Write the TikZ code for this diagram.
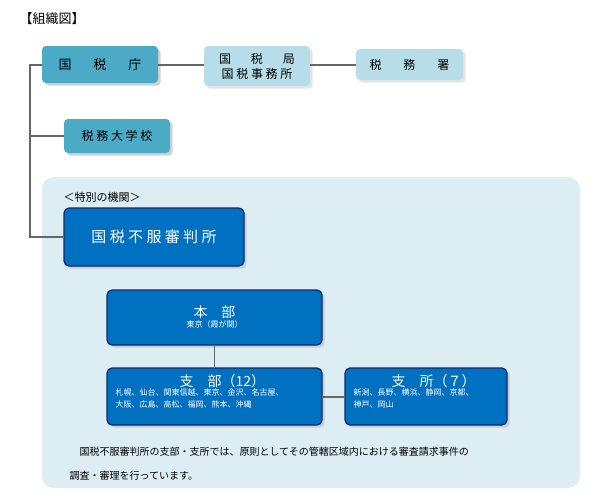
\documentclass[tikz,border=0pt]{standalone}
\usepackage{fontspec}
\setmainfont{Noto Sans CJK JP}
\usetikzlibrary{positioning}
\definecolor{tealbox}{HTML}{4BAAC6}
\definecolor{lightbox}{HTML}{B7DEE8}
\definecolor{panel}{HTML}{DCEEF4}
\definecolor{darkbox}{HTML}{0070C0}
\definecolor{navy}{HTML}{0D2A6B}
\tikzset{
  topbox/.style={rounded corners=4pt, fill=tealbox, font=\fontsize{13}{15}\selectfont, text=black,
    drop shadow={fill=gray!70}},
  subbox/.style={rounded corners=4pt, fill=lightbox, font=\fontsize{12}{15}\selectfont, text=black,
    drop shadow={fill=gray!40}},
  bluebox/.style={rounded corners=5pt, fill=darkbox, draw=navy, line width=1.2pt, text=white,
    drop shadow={fill=gray!60}},
  link/.style={draw=gray!80!black, line width=1.4pt}
}
\usetikzlibrary{shadows}
\begin{document}
\begin{tikzpicture}[x=1pt,y=-1pt]
\useasboundingbox (0,0) rectangle (600,501);
\node[anchor=west, font=\fontsize{13}{15}\selectfont] (title) at (16,19) {【組織図】};
\fill[panel, rounded corners=12pt] (42,177) rectangle (580,488);
% boxes
\path[topbox] (42,46) rectangle (158,83);
\node (nta) at (100,64.5) {\fontsize{13}{15}\selectfont 国\hspace{22pt}税\hspace{22pt}庁};
\path[subbox] (204,46) rectangle (310,86);
\node[align=center, font=\fontsize{12}{15}\selectfont] (kyoku) at (257,66) {国\hspace{20pt}税\hspace{20pt}局\\国 税 事 務 所};
\path[subbox] (356,49) rectangle (463,80);
\node (sho) at (409.5,64.5) {\fontsize{12}{15}\selectfont 税\hspace{22pt}務\hspace{22pt}署};
\path[topbox] (64,119) rectangle (170,153);
\node (univ) at (117,136) {\fontsize{12}{15}\selectfont 税 務 大 学 校};
\node[anchor=west, font=\fontsize{11}{13}\selectfont] (tokubetsu) at (60,197) {＜特別の機関＞};
\path[bluebox] (64,208) rectangle (244,266);
\node[text=white] (shinpan) at (154,237) {\fontsize{15}{18}\selectfont 国 税 不 服 審 判 所};
\path[bluebox] (107,290) rectangle (322,345);
\node[text=white, align=center] (honbu) at (214.5,317) {\fontsize{14}{17}\selectfont 本\hspace{14pt}部\\[-2pt]\fontsize{8}{10}\selectfont 東京（霞が関）};
\path[bluebox] (107,368) rectangle (322,425);
\node[text=white, align=left, anchor=north west] (shibu) at (112,371) {\hspace{64pt}\fontsize{14}{17}\selectfont 支\hspace{14pt}部（12）\\[-3pt]\fontsize{8}{11}\selectfont 札幌、仙台、関東信越、東京、金沢、名古屋、\\\fontsize{8}{11}\selectfont 大阪、広島、高松、福岡、熊本、沖縄};
\path[bluebox] (345,368) rectangle (507,425);
\node[text=white, align=left, anchor=north west] (shisho) at (350,371) {\hspace{38pt}\fontsize{14}{17}\selectfont 支\hspace{14pt}所（７）\\[-3pt]\fontsize{8}{11}\selectfont 新潟、長野、横浜、静岡、京都、\\\fontsize{8}{11}\selectfont 神戸、岡山};
\coordinate (trunk) at (30,65);
\coordinate (tbot) at (30,237);
% connectors
\draw[link] (158,65) -- (204,65);
\draw[link] (310,65) -- (356,65);
\draw[link] (42,65) -- (trunk) -- (tbot) -- (64,237);
\draw[link] (30,136) -- (64,136);
\draw[link] (214.5,345) -- (214.5,368);
\draw[link] (322,397) -- (345,397);
\node[anchor=west, font=\fontsize{10}{12}\selectfont] (note1) at (76,452) {国税不服審判所の支部・支所では、原則としてその管轄区域内における審査請求事件の};
\node[anchor=west, font=\fontsize{10}{12}\selectfont] (note2) at (66,476) {調査・審理を行っています。};
\end{tikzpicture}
\end{document}
